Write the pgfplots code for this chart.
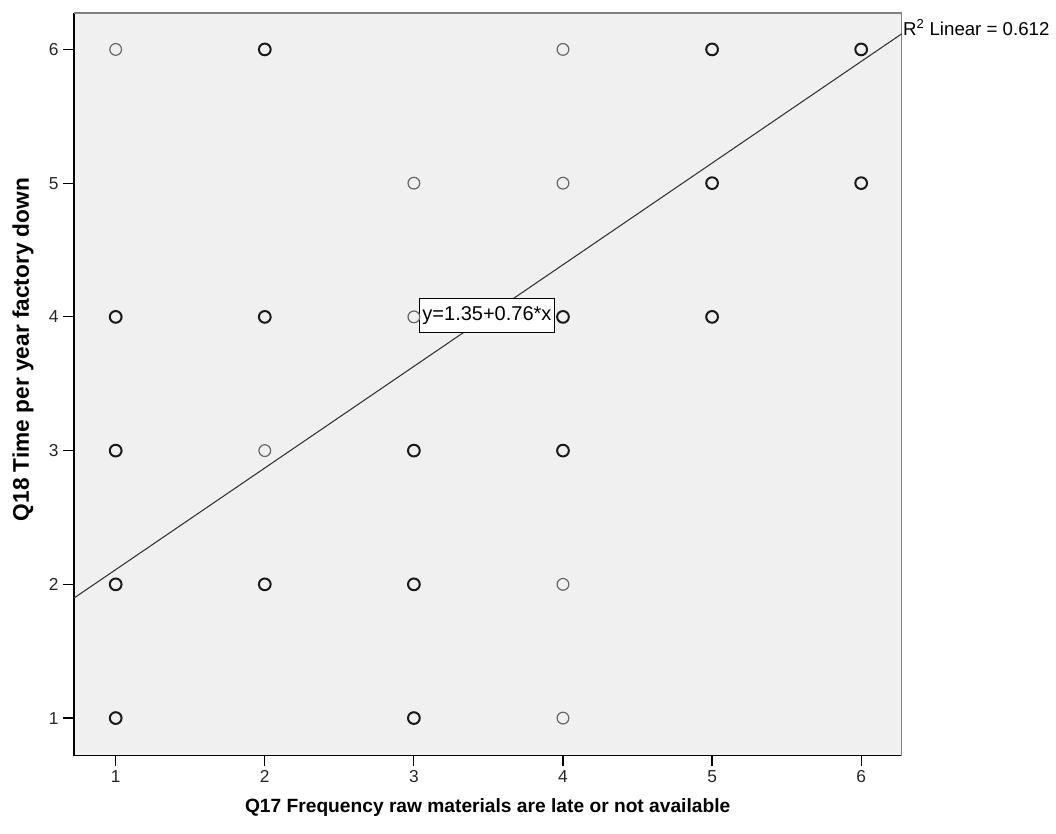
\documentclass[border=0pt]{standalone}
\usepackage{fontspec}
\setmainfont{Liberation Sans}
\usepackage{pgfplots}
\pgfplotsset{compat=1.18}
\definecolor{bg}{HTML}{F0F0F0}
\begin{document}
\begin{tikzpicture}
\path[use as bounding box] (-55.5pt,-58.5pt) rectangle (737pt,567pt);
\begin{axis}[
 at={(0,0)}, anchor=south west,
 scale only axis, width=621pt, height=557pt,
 xmin=0.72, xmax=6.27, ymin=0.72, ymax=6.27,
 xtick={1,...,6}, ytick={1,...,6},
 axis x line*=bottom, axis y line*=left,
 axis line style={black, line width=0.9pt, -},
 tick style={black, line width=0.9pt},
 tick align=outside, major tick length=8pt,
 axis background/.style={fill=bg},
 ticklabel style={font=\fontsize{13}{15}\selectfont, text=black!85},
 /pgf/number format/assume math mode=true,
 xlabel={Q17 Frequency raw materials are late or not available},
 ylabel={Q18 Time per year factory down},
 xlabel style={font=\fontsize{14.4}{16}\selectfont\bfseries, at={(axis description cs:0.5,-0.070)}, anchor=center},
 ylabel style={font=\fontsize{17}{19}\selectfont\bfseries, at={(axis description cs:-0.0615,0.547)}, anchor=center},
 clip=false,
]
\draw[gray, line width=1.3pt] (rel axis cs:0,1) -- (rel axis cs:1,1) -- (rel axis cs:1,0);
\addplot[black!80, line width=0.8pt] coordinates {(0.72,1.8972) (6.27,6.1152)};
\addplot[only marks, mark=o, mark size=4.4pt, mark options={draw=black!60, line width=0.9pt}] coordinates {
(1,6) (2,3) (3,5) (3,4) (4,6) (4,5) (4,2) (4,1)};
\addplot[only marks, mark=o, mark size=4.4pt, mark options={draw=black!90, line width=1.5pt}] coordinates {
(1,4) (1,3) (1,2) (1,1) (2,6) (2,4) (2,2) (3,3) (3,2) (3,1) (4,4) (4,3) (5,6) (5,5) (5,4) (6,6) (6,5)};
\node[draw=black, fill=white, line width=0.6pt, inner xsep=2pt, minimum height=26pt, font=\fontsize{15}{17}\selectfont] at (axis cs:3.49,4.01) {y=1.35+0.76*x};
\node[anchor=west, inner sep=1pt, font=\fontsize{14}{16}\selectfont, yshift=-10.5pt] at (rel axis cs:1,1) {R\textsuperscript{2} Linear = 0.612};
\end{axis}
\end{tikzpicture}
\end{document}
